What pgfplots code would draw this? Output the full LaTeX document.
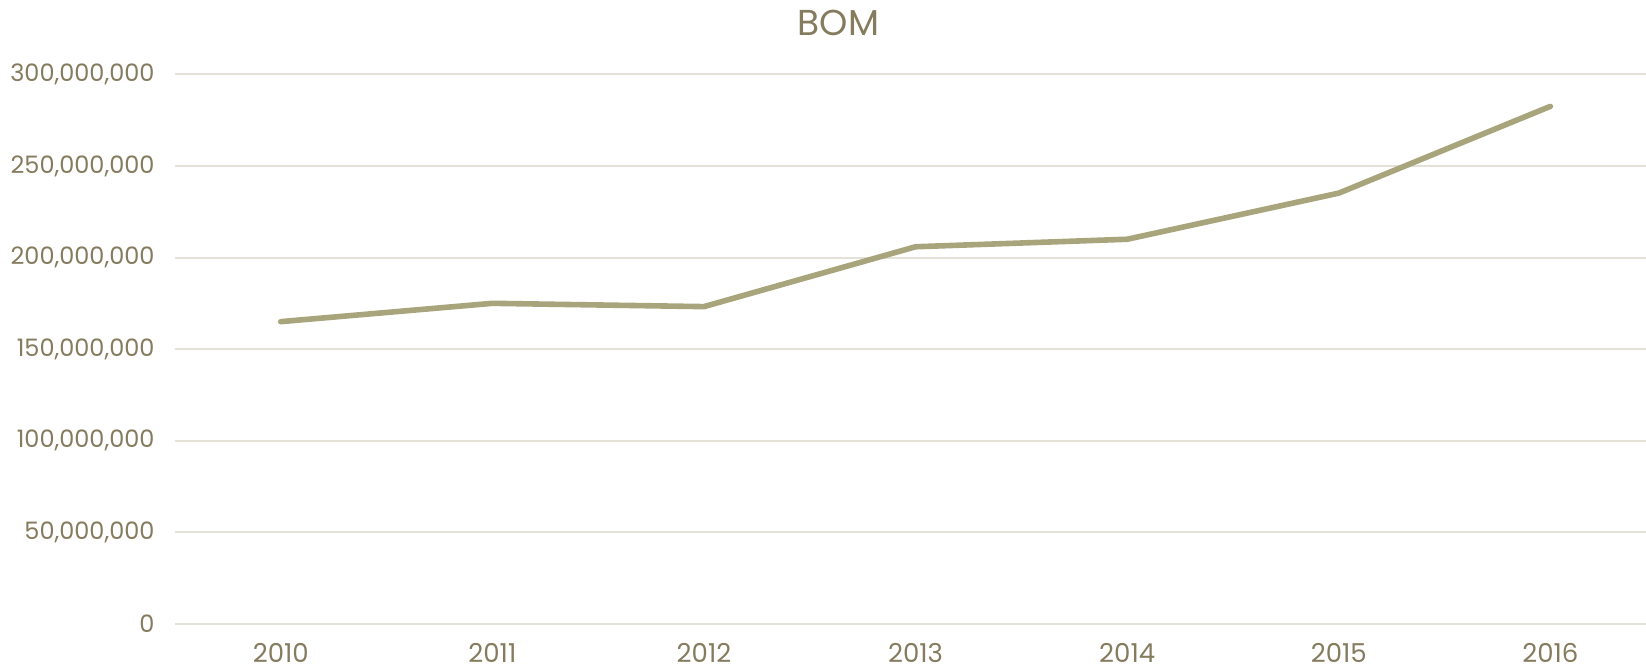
\documentclass[border=0pt]{standalone}
\usepackage{pgfplots}
\pgfplotsset{compat=1.18}
\usepackage{fontspec}
\setmainfont{Poppins}
\definecolor{linec}{HTML}{A8A47C}
\definecolor{textc}{HTML}{857B5E}
\definecolor{gridc}{HTML}{E4E1D6}
\begin{document}
\begin{tikzpicture}
\useasboundingbox (-87.5pt,-22.15pt) rectangle (735.5pt,311.85pt);
\begin{axis}[
  at={(0,0)}, anchor=south west,
  scale only axis,
  width=740.6pt, height=274.6pt,
  xmin=-0.5, xmax=6.5,
  ymin=0, ymax=300000000,
  xtick={0,1,2,3,4,5,6},
  xticklabels={2010,2011,2012,2013,2014,2015,2016},
  ytick={0,50000000,100000000,150000000,200000000,250000000,300000000},
  scaled y ticks=false,
  /pgf/number format/.cd, fixed, precision=0, 1000 sep={,}, assume math mode=true,
  /pgfplots/.cd,
  axis line style={draw=none},
  major tick length=0pt,
  ymajorgrids, grid style={gridc, line width=1pt},
  tick label style={text=textc},
  yticklabel style={font=\fontsize{12}{14}\selectfont, xshift=-6.7pt},
  xticklabel style={font=\fontsize{13}{15}\selectfont, anchor=center, yshift=-14.4pt},
  title={BOM},
  title style={font=\fontsize{18}{21}\selectfont, text=textc, at={(0.448,1)}, anchor=center, yshift=20pt},
  clip=false,
]
\addplot[linec, line width=2.8pt, line cap=round, line join=round] coordinates {
(0,165000000) (1,175000000) (2,173200000) (3,205900000) (4,210000000) (5,235200000) (6,282600000)
};
\end{axis}
\end{tikzpicture}
\end{document}
